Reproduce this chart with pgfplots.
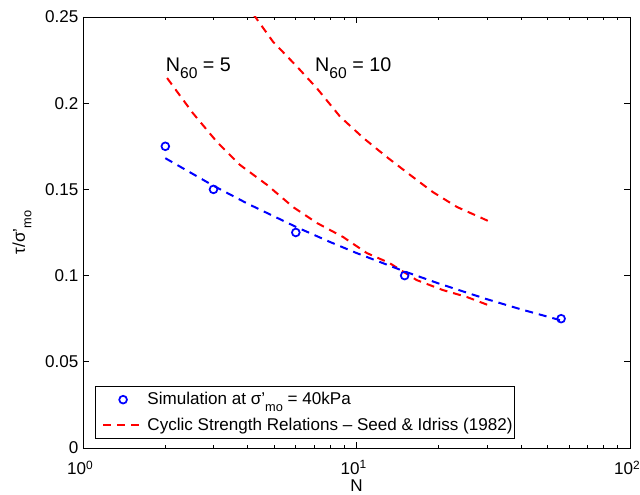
\documentclass[border=0pt]{standalone}
\usepackage{fontspec}
\setmainfont{Liberation Sans}
\usepackage{pgfplots}
\pgfplotsset{compat=1.18}
\pgfplotsset{
  legline/.style={legend image code/.code={\path (0pt,0pt); \path (36pt,0pt); \draw[##1] (4.75pt,0pt) -- (31.75pt,0pt);}},
  legmark/.style={legend image code/.code={\path (0pt,0pt); \path (36pt,0pt); \draw[##1, only marks] plot coordinates {(19.5pt,0pt)};}},
}
\newcommand{\lsub}[1]{\raisebox{-4.8pt}{\fontsize{9.6}{10}\selectfont #1}}
\newcommand{\bsub}[1]{\raisebox{-5.3pt}{\fontsize{11.7}{12}\selectfont #1}}
\begin{document}
\begin{tikzpicture}
\useasboundingbox (-62.25pt,-35.25pt) rectangle (417.75pt,336pt);
\begin{axis}[
  xmode=log, scale only axis, width=410.25pt, height=323.25pt,
  xmin=1, xmax=100, ymin=0, ymax=0.25,
  xtick={1,10,100},
  xticklabels={10\textsuperscript{0},10\textsuperscript{1},10\textsuperscript{2}},
  ytick={0,0.05,0.1,0.15,0.2,0.25},
  yticklabels={0,0.05,0.1,0.15,0.2,0.25},
  tick align=inside,
  major tick length=4.5pt, minor tick length=2.5pt,
  axis line style={line width=0.6pt},
  every tick/.style={black, line width=0.5pt},
  tick label style={font=\fontsize{12.8}{14}\selectfont},
  xticklabel style={yshift=-6pt, xshift=-2pt},
  label style={font=\fontsize{12.8}{14}\selectfont},
  xlabel={N},
  xlabel style={at={(axis description cs:0.5,-0.088)}, anchor=center},
  ylabel={τ/σ'\lsub{mo}},
  ylabel style={at={(axis description cs:-0.1115,0.5)}, anchor=center},
  legend style={at={(0.022,0.021)}, anchor=south west, draw=black, line width=0.6pt,
    font=\fontsize{12.8}{14}\selectfont, inner xsep=0.5pt, inner ysep=2.5pt, row sep=4.5pt,
    nodes={inner xsep=1pt}},
  legend cell align=left,
]
\addplot[only marks, mark=o, mark size=2.9pt, line width=1.3pt, color=blue, legmark]
  coordinates {(2,0.175)(3,0.15)(6,0.125)(15,0.1)(56,0.075)};
\addlegendentry{Simulation at σ'\lsub{mo} = 40kPa}
\addplot[red, line width=1.5pt, dash pattern=on 6pt off 4.5pt, legline]
  coordinates {(2.03,0.2146)(2.52,0.1943)(3.09,0.1775)(3.75,0.1642)(4.71,0.1526)(5.86,0.1398)(7.17,0.1305)(8.93,0.1224)(10.9,0.1131)(13.2,0.1073)(16.6,0.0974)(20.7,0.0916)(25.3,0.0876)(30.3,0.0829)};
\addlegendentry{Cyclic Strength Relations – Seed \& Idriss (1982)}
\addplot[red, line width=1.5pt, dash pattern=on 6pt off 4.5pt, forget plot]
  coordinates {(4.2,0.2515)(4.95,0.2357)(6.06,0.2212)(7.17,0.2086)(8.71,0.1922)(10.6,0.1798)(12.9,0.1688)(15.7,0.1584)(19.0,0.1485)(23.3,0.1398)(30.3,0.1317)};
\addplot[blue, line width=1.5pt, dash pattern=on 6pt off 4.5pt, forget plot]
  coordinates {(2,0.1681)(3,0.1521)(4,0.1417)(6,0.1283)(8,0.1195)(10,0.1131)(15,0.1024)(20,0.0954)(30,0.0863)(40,0.0804)(56,0.0740)};
\node[anchor=base west, inner sep=0, font=\fontsize{14.8}{16}\selectfont] at (axis cs:2.005,0.2183) {N\bsub{60} = 5};
\node[anchor=base west, inner sep=0, font=\fontsize{14.8}{16}\selectfont] at (axis cs:7.05,0.2183) {N\bsub{60} = 10};
\end{axis}
\end{tikzpicture}
\end{document}
